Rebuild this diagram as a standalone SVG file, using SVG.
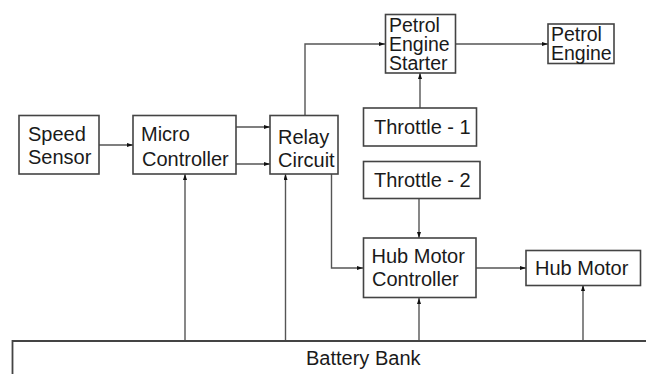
<svg xmlns="http://www.w3.org/2000/svg" width="646" height="374" viewBox="0 0 646 374">
<style>
.box{fill:#fff;stroke:#444;stroke-width:1.6}
.t{font-family:"Liberation Sans",Arial,sans-serif;font-size:20px;fill:#1a1a1a}
.ts{font-family:"Liberation Sans",Arial,sans-serif;font-size:19.5px;fill:#1a1a1a}
.c{fill:none;stroke:#555;stroke-width:1.4}
</style>
<defs>
<marker id="ah" viewBox="0 0 6 4" refX="6" refY="2" markerWidth="6" markerHeight="4" markerUnits="userSpaceOnUse" orient="auto">
<path d="M0,0 L6,2 L0,4 Z" fill="#111"/>
</marker>
</defs>
<rect width="646" height="374" fill="#fff"/>
<g id="connectors">
<path class="c" d="M99,145 H133" marker-end="url(#ah)"/>
<path class="c" d="M236,127 H270" marker-end="url(#ah)"/>
<path class="c" d="M236,164 H270" marker-end="url(#ah)"/>
<path class="c" d="M305,115 V44 H385" marker-end="url(#ah)"/>
<path class="c" d="M455,44 H548" marker-end="url(#ah)"/>
<path class="c" d="M420,108 V73" marker-end="url(#ah)"/>
<path class="c" d="M419,198 V238" marker-end="url(#ah)"/>
<path class="c" d="M331.5,174 V268 H363" marker-end="url(#ah)"/>
<path class="c" d="M476,268 H526" marker-end="url(#ah)"/>
<path class="c" d="M185,341 V174" marker-end="url(#ah)"/>
<path class="c" d="M285.5,341 V174" marker-end="url(#ah)"/>
<path class="c" d="M419,341 V298" marker-end="url(#ah)"/>
<path class="c" d="M583,341 V285" marker-end="url(#ah)"/>
</g>
<g id="speed-sensor">
<rect class="box" x="19" y="115.5" width="80" height="58.5"/>
<text class="t" x="28" y="140.5">Speed</text>
<text class="t" x="28" y="164">Sensor</text>
</g>
<g id="micro-controller">
<rect class="box" x="133" y="115.5" width="103" height="58.5"/>
<text class="t" x="141" y="140.5">Micro</text>
<text class="t" x="142" y="165.5">Controller</text>
</g>
<g id="relay-circuit">
<rect class="box" x="270" y="115.5" width="68" height="58.5"/>
<text class="t" x="278" y="144">Relay</text>
<text class="t" x="278" y="166.5">Circuit</text>
</g>
<g id="petrol-engine-starter">
<rect class="box" x="385.5" y="14.5" width="70" height="58.5"/>
<text class="ts" x="389" y="31.5">Petrol</text>
<text class="ts" x="389" y="50.5">Engine</text>
<text class="ts" x="389" y="69.5">Starter</text>
</g>
<g id="petrol-engine">
<rect class="box" x="548" y="24" width="66" height="39.5"/>
<text class="ts" x="551" y="41">Petrol</text>
<text class="ts" x="551" y="59.5">Engine</text>
</g>
<g id="throttle-1">
<rect class="box" x="363.5" y="108" width="113" height="38"/>
<text class="t" x="374" y="133.5">Throttle - 1</text>
</g>
<g id="throttle-2">
<rect class="box" x="363.5" y="161.5" width="116.5" height="37"/>
<text class="t" x="374" y="186.5">Throttle - 2</text>
</g>
<g id="hub-motor-controller">
<rect class="box" x="363.5" y="238" width="112.5" height="59.5"/>
<text class="t" x="371.5" y="262.5">Hub Motor</text>
<text class="t" x="372" y="286">Controller</text>
</g>
<g id="hub-motor">
<rect class="box" x="526" y="250.5" width="114.5" height="35"/>
<text class="t" x="535" y="275">Hub Motor</text>
</g>
<g id="battery-bank">
<path d="M12.5,376 V341 H648" fill="none" stroke="#444" stroke-width="1.8"/>
<text class="t" x="306" y="365">Battery Bank</text>
</g>
</svg>
